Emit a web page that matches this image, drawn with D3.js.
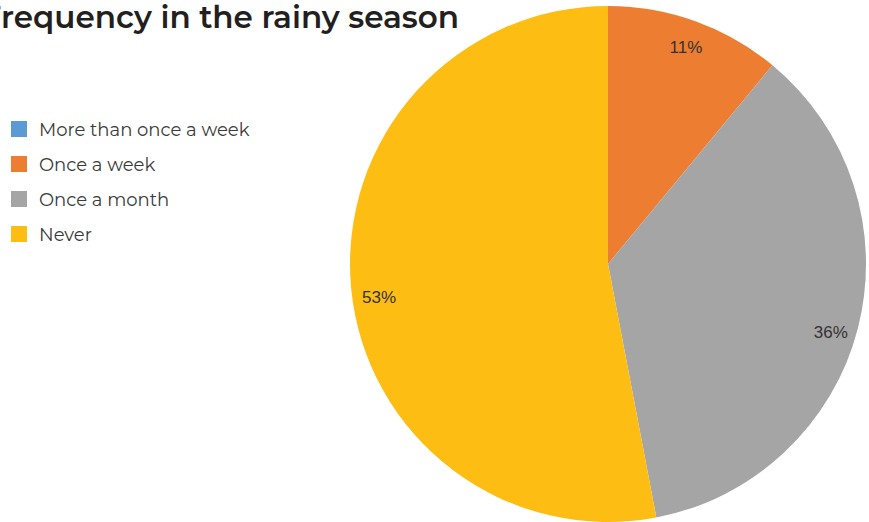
<!DOCTYPE html>
<html>
<head>
<meta charset="utf-8">
<script src="https://cdn.jsdelivr.net/npm/d3@7/dist/d3.min.js"></script>
<style>
  html, body { margin: 0; padding: 0; background: #fff; }
  svg { display: block; }
</style>
</head>
<body>
<svg id="chart" width="869" height="522"></svg>
<script>
// Rainy-season frequency shares (percent)
const categories = ["More than once a week", "Once a week", "Once a month", "Never"];
const shares = [0, 11, 36, 53];
const colors = ["#5B9BD5", "#ED7D31", "#A5A5A5", "#FDBD13"];
const titleText = "Frequency in the rainy season";

const width = 869, height = 522;
const svg = d3.select("#chart");

// Pie geometry
const cx = 608, cy = 264, radius = 258;
const labelRadius = 230;
// small vertical nudges for the data labels (layout only)
const labelNudgeY = [0, 0, 11, 12];

const pie = d3.pie().sort(null).value(d => d).startAngle(0).endAngle(2 * Math.PI);
const arcs = pie(shares);
const arc = d3.arc().innerRadius(0).outerRadius(radius);
const labelArc = d3.arc().innerRadius(labelRadius).outerRadius(labelRadius);

const g = svg.append("g").attr("transform", `translate(${cx},${cy})`);

g.selectAll("path.slice")
  .data(arcs)
  .join("path")
  .attr("class", "slice")
  .attr("d", arc)
  .attr("fill", (d, i) => colors[i]);

g.selectAll("text.pct")
  .data(arcs.filter(d => d.value > 0))
  .join("text")
  .attr("class", "pct")
  .attr("x", d => labelArc.centroid(d)[0])
  .attr("y", d => labelArc.centroid(d)[1] + labelNudgeY[d.index])
  .attr("text-anchor", "middle")
  .attr("dominant-baseline", "central")
  .attr("font-family", "'Liberation Sans', Arial, sans-serif")
  .attr("font-size", 17)
  .attr("fill", "#333")
  .text(d => d.value + "%");

// Title (runs off the left edge)
svg.append("text")
  .attr("x", 459)
  .attr("y", 28)
  .attr("text-anchor", "end")
  .attr("font-family", "Montserrat, 'Open Sans', sans-serif")
  .attr("font-weight", 600)
  .attr("font-size", 31)
  .attr("fill", "#231f20")
  .text(titleText);

// Legend
const legendY = d3.scalePoint().domain(categories).range([129, 234]);
const legend = svg.append("g");
const items = legend.selectAll("g")
  .data(categories)
  .join("g")
  .attr("transform", d => `translate(11,${legendY(d)})`);
items.append("rect")
  .attr("x", 0).attr("y", -8)
  .attr("width", 16).attr("height", 16)
  .attr("fill", (d, i) => colors[i]);
items.append("text")
  .attr("x", 28)
  .attr("y", 1)
  .attr("dominant-baseline", "central")
  .attr("font-family", "Montserrat, 'Open Sans', sans-serif")
  .attr("font-size", 18)
  .attr("fill", "#3a3a3a")
  .text(d => d);
</script>
</body>
</html>
